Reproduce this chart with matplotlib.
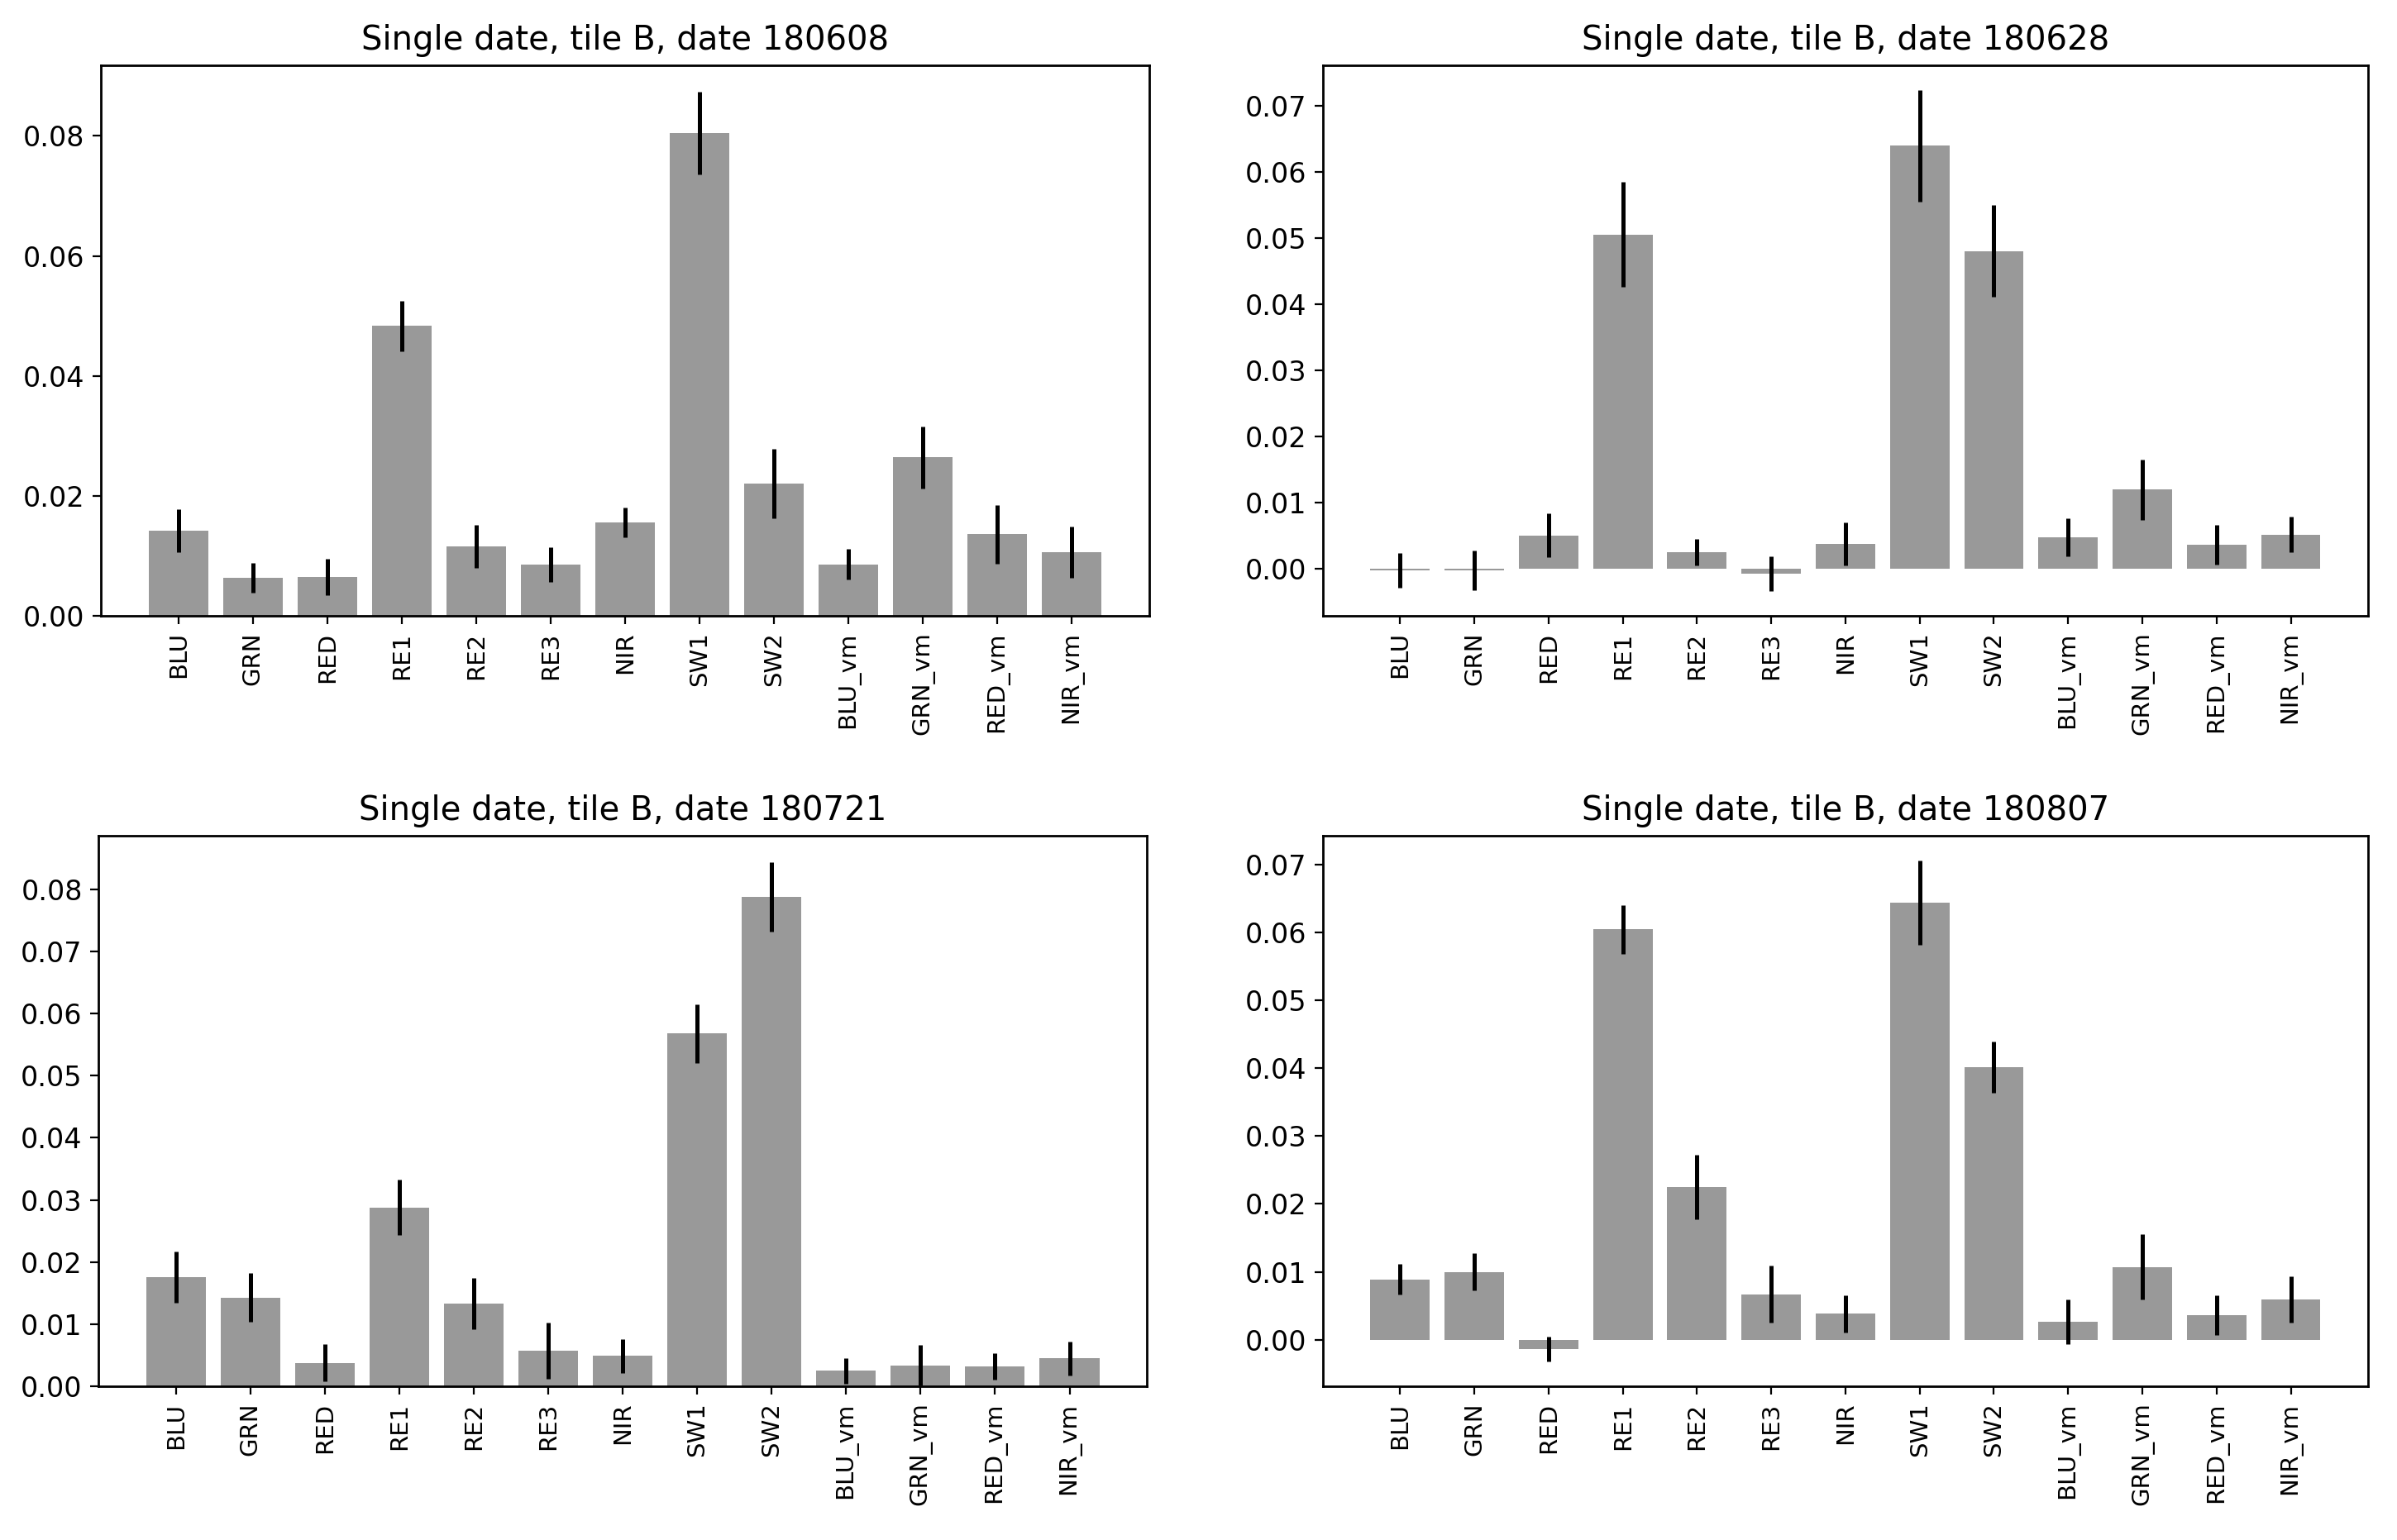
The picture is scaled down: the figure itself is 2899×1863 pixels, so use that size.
import matplotlib
matplotlib.use("Agg")
import matplotlib.pyplot as plt
import numpy as np

# Band names shared by all four panels
bands = ['BLU', 'GRN', 'RED', 'RE1', 'RE2', 'RE3', 'NIR', 'SW1', 'SW2',
         'BLU_vm', 'GRN_vm', 'RED_vm', 'NIR_vm']

# Importance values and error (std)
dates = ['180608', '180628', '180721', '180807']

vals_180608 = [0.0142, 0.0063, 0.0065, 0.0483, 0.0116, 0.0085, 0.0156,
               0.0805, 0.0220, 0.0086, 0.0264, 0.0136, 0.0106]
err_180608 = [0.0036, 0.0025, 0.0030, 0.0042, 0.0036, 0.0029, 0.0025,
              0.0069, 0.0058, 0.0026, 0.0052, 0.0049, 0.0043]

vals_180628 = [-0.0003, -0.0003, 0.0050, 0.0505, 0.0024, -0.0008, 0.0037,
               0.0639, 0.0480, 0.0047, 0.0119, 0.0036, 0.0051]
err_180628 = [0.0026, 0.0030, 0.0033, 0.0079, 0.0020, 0.0026, 0.0032,
              0.0084, 0.0069, 0.0029, 0.0046, 0.0030, 0.0027]

vals_180721 = [0.0176, 0.0143, 0.0038, 0.0288, 0.0133, 0.0057, 0.0049,
               0.0568, 0.0788, 0.0025, 0.0034, 0.0032, 0.0045]
err_180721 = [0.0041, 0.0039, 0.0030, 0.0045, 0.0041, 0.0045, 0.0027,
              0.0047, 0.0056, 0.0021, 0.0033, 0.0021, 0.0027]

vals_180807 = [0.0089, 0.0100, -0.0014, 0.0605, 0.0225, 0.0067, 0.0038,
               0.0644, 0.0402, 0.0026, 0.0107, 0.0036, 0.0059]
err_180807 = [0.0022, 0.0027, 0.0018, 0.0036, 0.0047, 0.0042, 0.0027,
              0.0062, 0.0038, 0.0033, 0.0048, 0.0029, 0.0034]

all_vals = [vals_180608, vals_180628, vals_180721, vals_180807]
all_errs = [err_180608, err_180628, err_180721, err_180807]

# axes positions [left, bottom, width, height] in figure fractions
positions = [
    [0.0421, 0.6001, 0.4374, 0.3575],
    [0.5519, 0.6001, 0.4360, 0.3575],
    [0.0411, 0.0998, 0.4374, 0.3575],
    [0.5519, 0.0998, 0.4360, 0.3575],
]

fig = plt.figure(figsize=(14.495, 9.315), dpi=200)

for pos, date, vals, errs in zip(positions, dates, all_vals, all_errs):
    ax = fig.add_axes(pos)
    x = np.arange(len(bands))
    ax.bar(x, vals, yerr=errs, width=0.8, color='#999999',
           error_kw=dict(ecolor='black', elinewidth=1.8, capsize=0))
    ax.set_xticks(x)
    ax.set_xticklabels(bands, rotation=90, fontsize=10.5)
    ax.tick_params(axis='y', labelsize=12)
    ax.set_title("Single date, tile B, date " + date, fontsize=14.5, pad=7)
    for s in ax.spines.values():
        s.set_linewidth(1.0)

plt.savefig('out.png', dpi=200)
